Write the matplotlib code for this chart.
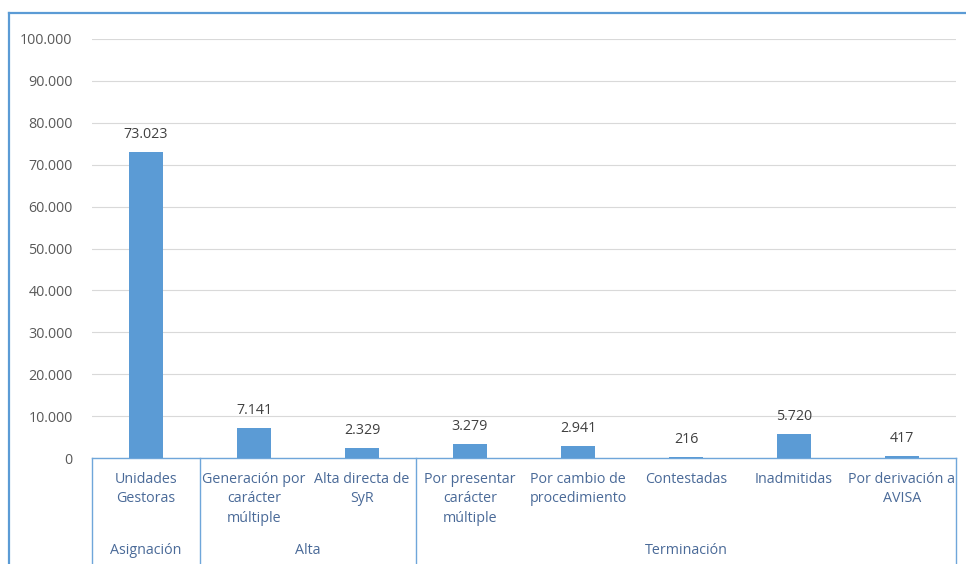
import matplotlib.pyplot as plt
from matplotlib.ticker import FuncFormatter
from matplotlib.lines import Line2D

plt.rcParams['font.family'] = ['Open Sans', 'DejaVu Sans']

# categories and values
categorias = ["Unidades\nGestoras", "Generación por\ncarácter\nmúltiple",
              "Alta directa de\nSyR", "Por presentar\ncarácter\nmúltiple",
              "Por cambio de\nprocedimiento", "Contestadas", "Inadmitidas",
              "Por derivación a\nAVISA"]
valores = [73023, 7141, 2329, 3279, 2941, 216, 5720, 417]
grupos = ["Asignación", "Alta", "Terminación"]
grupo_tam = [1, 2, 5]

azul = '#5B9BD5'
linea = '#6FA6DA'
texto_cat = '#4A6A98'

W, H = 966, 564
fig = plt.figure(figsize=(W / 100, H / 100), dpi=100)

# outer chart frame (top and left edges visible)
fig.add_artist(Line2D([9 / W, 9 / W], [1 - 13 / H, 0], color=azul, lw=1.6))
fig.add_artist(Line2D([9 / W, 1], [1 - 13 / H, 1 - 13 / H], color=azul, lw=1.6))

ax = fig.add_axes([92 / W, 106 / H, 864 / W, 419 / H])
x = list(range(len(valores)))
ax.bar(x, valores, width=0.31, color=azul, zorder=3)

ax.set_xlim(-0.5, len(valores) - 0.5)
ax.set_ylim(0, 100000)
ax.set_yticks(range(0, 100001, 10000))
ax.yaxis.set_major_formatter(FuncFormatter(lambda v, p: f"{int(v):,}".replace(",", ".")))
ax.tick_params(axis='y', length=0, pad=14, labelsize=10.3, labelcolor='#595959')
ax.set_xticks([])
ax.grid(axis='y', color='#D9D9D9', lw=0.8, zorder=0)
for s in ['top', 'right', 'left']:
    ax.spines[s].set_visible(False)
ax.spines['bottom'].set_color(linea)
ax.spines['bottom'].set_linewidth(1.0)

# data labels
for xi, v in zip(x, valores):
    ax.annotate(f"{v:,}".replace(",", "."), (xi, v), xytext=(0, 10),
                textcoords='offset points', ha='center', va='baseline',
                fontsize=10.3, color='#404040')

tr = ax.get_xaxis_transform()
# category labels
for xi, c in zip(x, categorias):
    ax.text(xi, -14 / 419, c, transform=tr, ha='center', va='top',
            multialignment='center', fontsize=10.3, color=texto_cat,
            linespacing=1.4)

# group labels and separators
inicio = -0.5
ax.plot([inicio, inicio], [0, -0.4], transform=tr, color=linea, lw=1.0, clip_on=False)
for g, n in zip(grupos, grupo_tam):
    fin = inicio + n
    ax.plot([fin, fin], [0, -0.4], transform=tr, color=linea, lw=1.0, clip_on=False)
    ax.text((inicio + fin) / 2, -92 / 419, g, transform=tr, ha='center', va='center',
            fontsize=10.3, color=texto_cat)
    inicio = fin

fig.savefig('out.png', dpi=100)
